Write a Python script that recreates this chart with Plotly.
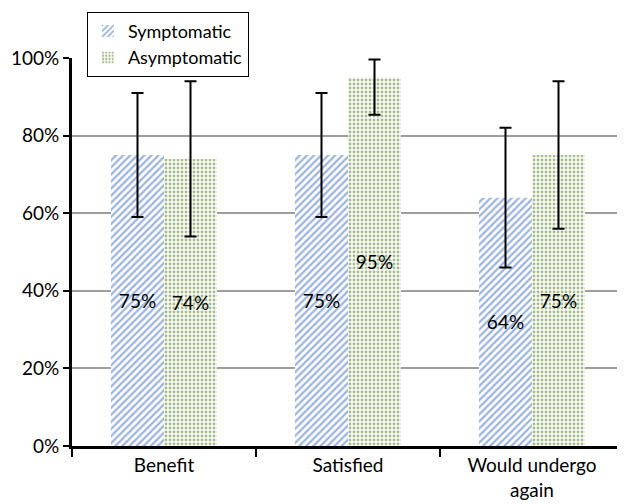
import plotly.graph_objects as go

categories = ["Benefit", "Satisfied", "Would undergo<br>again"]
symptomatic = [75, 75, 64]
asymptomatic = [74, 95, 75]
sym_err_plus = [16, 16, 18]
sym_err_minus = [16, 16, 18]
asym_err_plus = [20, 4.6, 19]
asym_err_minus = [20, 9.6, 19]
y_ticks = [0, 20, 40, 60, 80, 100]
y_tick_labels = ["0%", "20%", "40%", "60%", "80%", "100%"]

FONT = "Lato"

fig = go.Figure()
fig.add_trace(go.Bar(
    name="Symptomatic", x=categories, y=symptomatic,
    text=[f"{v}%" for v in symptomatic], texttemplate="%{text}",
    marker=dict(color="white", line=dict(width=0),
                pattern=dict(shape="/", fgcolor="#3469c0", bgcolor="white", size=5, solidity=0.45)),
    error_y=dict(type="data", symmetric=False, array=sym_err_plus, arrayminus=sym_err_minus,
                 color="black", thickness=2, width=6),
    textposition="inside", insidetextanchor="middle", textangle=0,
    textfont=dict(family=FONT, size=19, color="black"),
))
fig.add_trace(go.Bar(
    name="Asymptomatic", x=categories, y=asymptomatic,
    text=[f"{v}%" for v in asymptomatic], texttemplate="%{text}",
    marker=dict(color="white", line=dict(width=0),
                pattern=dict(shape=".", fgcolor="#4a7a12", bgcolor="white", size=4, solidity=0.42)),
    error_y=dict(type="data", symmetric=False, array=asym_err_plus, arrayminus=asym_err_minus,
                 color="black", thickness=2, width=6),
    textposition="inside", insidetextanchor="middle", textangle=0,
    textfont=dict(family=FONT, size=19, color="black"),
))

fig.update_layout(
    width=617, height=496,
    margin=dict(l=64, r=1, t=50, b=58),
    paper_bgcolor="white", plot_bgcolor="white",
    barmode="group", bargap=0.424, bargroupgap=0,
    font=dict(family=FONT, size=19, color="black"),
    showlegend=True,
    legend=dict(x=0.027, y=1.119, xanchor="left", yanchor="top",
                bgcolor="white", bordercolor="black", borderwidth=1,
                font=dict(family=FONT, size=18), tracegroupgap=0),
    uniformtext=dict(minsize=19, mode="show"),
)
fig.update_xaxes(
    showline=True, linecolor="black", linewidth=3, automargin=False,
    ticks="outside", tickson="boundaries", ticklen=8, tickwidth=2, tickcolor="black",
    showgrid=False, tickfont=dict(family=FONT, size=19),
)
fig.update_yaxes(
    range=[0, 100], tickvals=y_ticks, ticktext=y_tick_labels, automargin=False,
    showline=True, linecolor="black", linewidth=3,
    ticks="outside", ticklen=6, tickwidth=2, tickcolor="black",
    showgrid=True, gridcolor="#9e9e9e", gridwidth=2, zeroline=False,
    tickfont=dict(family=FONT, size=19),
)

fig.write_html("out.html")
